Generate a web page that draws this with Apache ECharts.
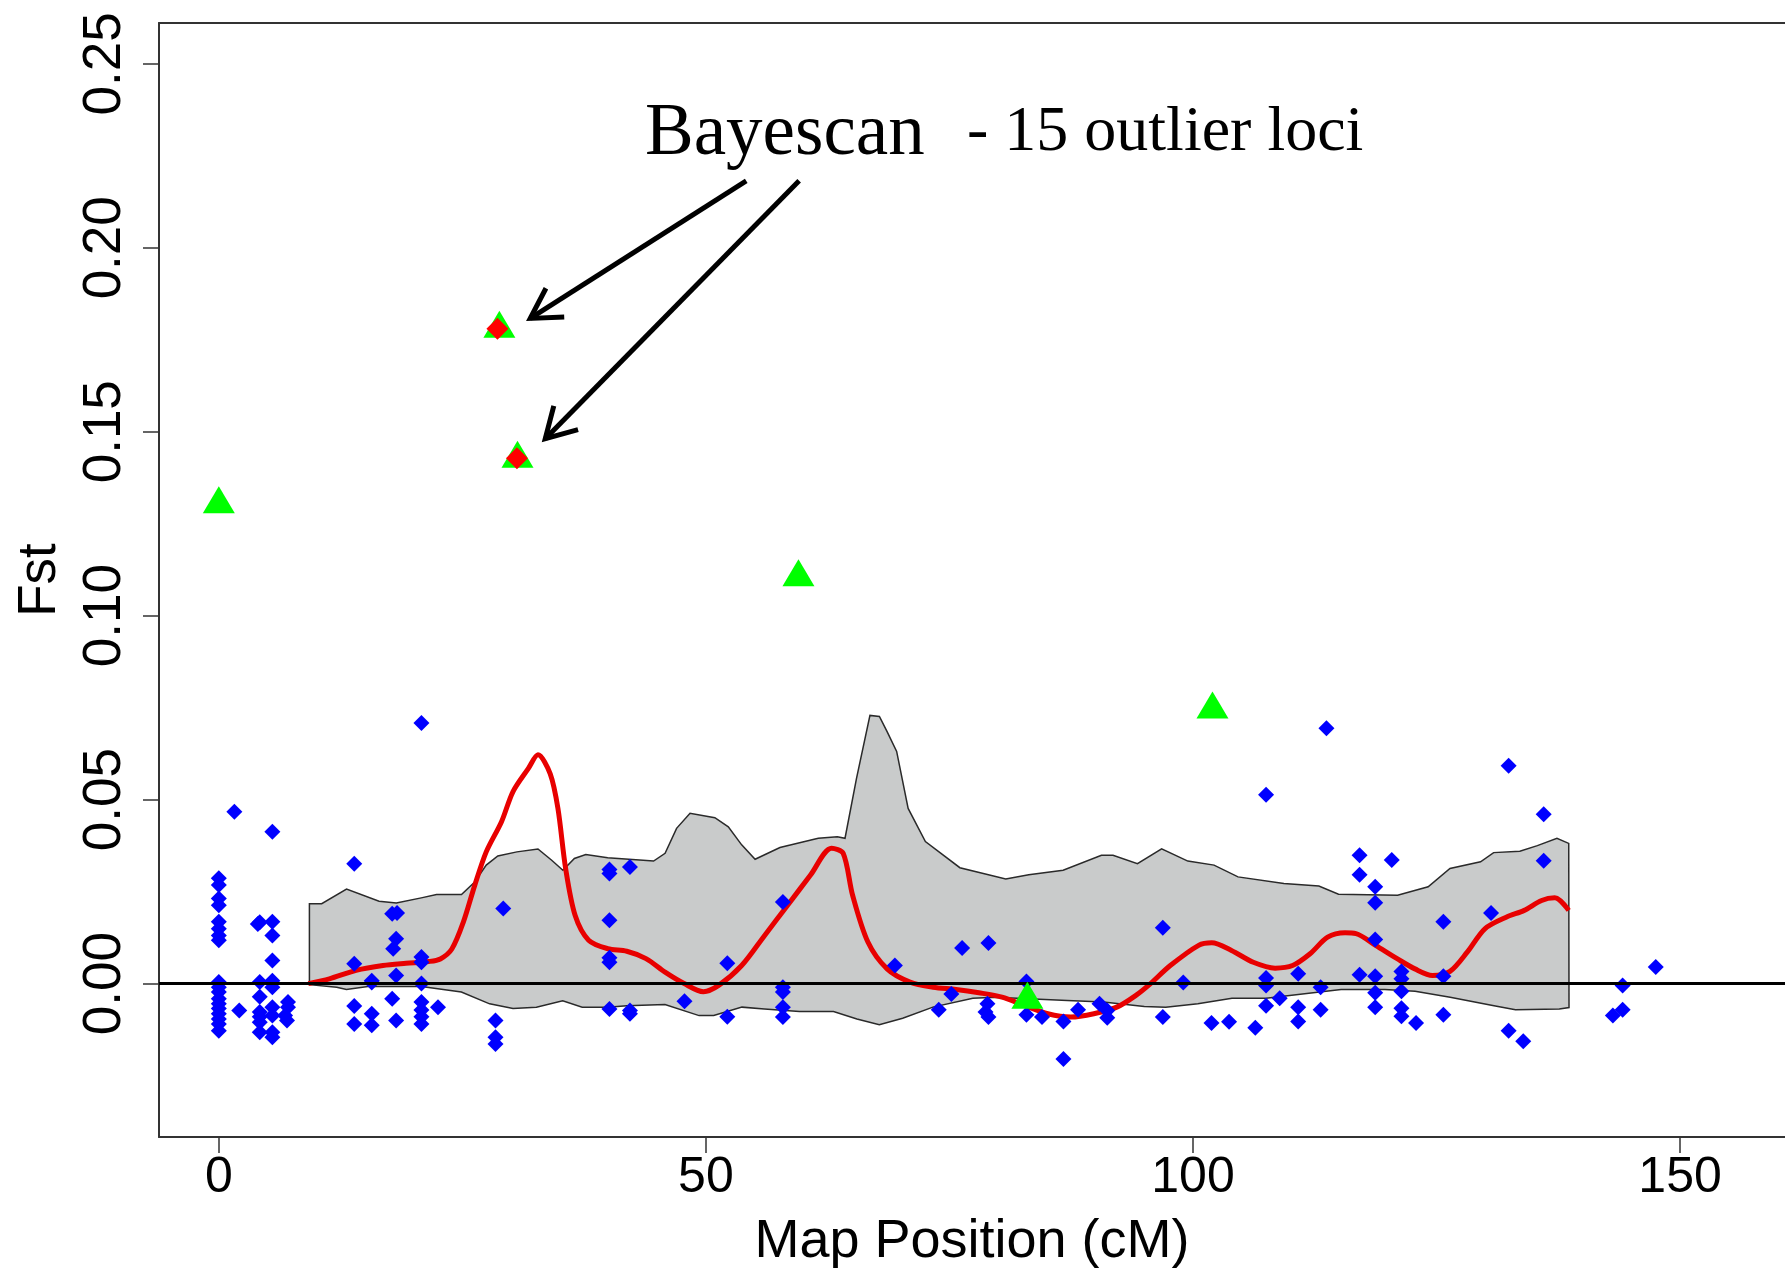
<!DOCTYPE html>
<html>
<head>
<meta charset="utf-8">
<script src="https://cdn.jsdelivr.net/npm/echarts@6/dist/echarts.min.js"></script>
<style>
  html, body { margin: 0; padding: 0; background: #fff; }
  #chart { width: 1785px; height: 1268px; }
</style>
</head>
<body>
<div id="chart"></div>
<script>
// tick values
var xTicks = [0, 50, 100, 150];
var yTicks = [0, 0.05, 0.10, 0.15, 0.20, 0.25];

// all loci (blue)
var loci = [
  [0,0.0286],[0,0.0268],[0,0.0231],[0,0.0213],[0,0.0168],[0,0.0149],[0,0.0131],[0,0.0118],
  [0,0.0004],[0,-0.0010],[0,-0.0023],[0,-0.0041],[0,-0.0055],[0,-0.0068],[0,-0.0082],[0,-0.0096],[0,-0.0110],[0,-0.0128],
  [1.6,0.0467],[2.1,-0.0073],
  [4.2,0.0167],[4.0,0.0162],[4.2,0.0004],[4.2,-0.0036],[4.2,-0.0077],[4.2,-0.0090],[4.2,-0.0105],[4.2,-0.0132],
  [5.5,0.0413],[5.5,0.0168],[5.5,0.0131],[5.5,0.0063],[5.5,0.0008],[5.5,-0.0010],[5.5,-0.0064],[5.5,-0.0087],[5.5,-0.0132],[5.5,-0.0146],
  [7.1,-0.0050],[7.1,-0.0064],[6.8,-0.0087],[7.0,-0.0100],
  [13.9,0.0326],[13.9,0.0054],[13.9,-0.0061],[13.9,-0.0110],
  [15.7,0.0008],[15.7,0.0003],[15.7,-0.0082],[15.7,-0.0113],
  [17.8,0.0190],[18.3,0.0192],[18.2,0.0122],[17.9,0.0095],[18.2,0.0022],[17.8,-0.0041],[18.2,-0.0100],
  [20.8,0.0708],[20.8,0.0072],[20.8,0.0058],[20.8,0.0000],[20.8,-0.0050],[20.8,-0.0072],[20.8,-0.0090],[20.8,-0.0110],
  [22.5,-0.0064],
  [28.4,-0.0100],[28.4,-0.0146],[28.4,-0.0164],[29.2,0.0204],
  [40.1,0.0299],[40.1,0.0310],[40.1,0.0172],[40.1,0.0070],[40.1,0.0058],[40.1,-0.0069],
  [42.2,0.0317],[42.2,-0.0073],[42.2,-0.0082],
  [47.8,-0.0048],[52.2,0.0055],[52.2,-0.0090],
  [57.9,0.0222],[57.9,-0.0010],[57.9,-0.0023],[57.9,-0.0064],[57.9,-0.0091],
  [69.4,0.0049],[73.9,-0.0071],[75.2,-0.0028],[76.3,0.0097],
  [79.0,0.0110],[78.9,-0.0055],[78.7,-0.0077],[79.0,-0.0091],
  [82.9,0.0006],[82.9,-0.0085],[84.5,-0.0091],[86.7,-0.0103],[86.7,-0.0205],
  [88.2,-0.0071],[90.4,-0.0055],[91.2,-0.0073],[91.2,-0.0093],
  [96.9,0.0152],[96.9,-0.0091],[99.0,0.0003],[101.9,-0.0107],[103.7,-0.0104],[106.4,-0.0120],
  [107.5,0.0513],[107.5,0.0015],[107.5,-0.0005],[107.5,-0.0060],[108.9,-0.0040],
  [110.8,0.0027],[110.8,-0.0064],[110.8,-0.0103],[113.1,-0.0010],[113.1,-0.0071],[113.7,0.0694],
  [117.1,0.0349],[117.1,0.0296],[117.1,0.0024],
  [118.7,0.0263],[118.7,0.0220],[118.7,0.0120],[118.7,0.0020],[118.7,-0.0025],[118.7,-0.0064],
  [120.4,0.0336],
  [121.4,0.0033],[121.4,0.0013],[121.4,-0.0021],[121.4,-0.0067],[121.4,-0.0089],
  [122.9,-0.0107],[125.7,0.0168],[125.7,0.0020],[125.7,-0.0085],
  [130.6,0.0192],[132.4,0.0592],[132.4,-0.0128],[133.9,-0.0157],
  [136.0,0.0460],[136.0,0.0334],
  [143.1,-0.0087],[144.1,-0.0005],[144.1,-0.0071],[147.5,0.0045]
];

// outliers (green triangles) and Bayescan outliers (red diamonds)
var outliers = [[0,0.1315],[28.8,0.1792],[30.66,0.1439],[59.5,0.1117],[83.0,-0.0032],[102.0,0.0757]];
var bayescan = [[28.6,0.1780],[30.6,0.1428]];

// smoothed mean (red line)
var meanLine = [
  [9.19,0.0000],[11.35,0.0013],[14.1,0.0036],[16.85,0.0049],[19.21,0.0055],[21.56,0.0060],[22.74,0.0067],
  [23.92,0.0094],[25.1,0.0167],[26.27,0.0267],[27.45,0.0358],[29.02,0.0440],[30.2,0.0522],[31.78,0.0585],
  [32.76,0.0622],[34.02,0.0570],[34.81,0.0476],[35.6,0.0313],[36.58,0.0185],[37.96,0.0118],[39.92,0.0095],
  [41.88,0.0088],[43.85,0.0068],[45.81,0.0031],[47.77,0.0000],[49.74,-0.0022],[51.31,-0.0005],[53.67,0.0049],
  [56.03,0.0131],[58.39,0.0213],[60.74,0.0295],[62.9,0.0368],[64.09,0.0354],[65.06,0.0240],[66.63,0.0113],
  [68.6,0.0040],[70.95,0.0004],[73.32,-0.0010],[75.68,-0.0016],[78.03,-0.0025],[80.39,-0.0037],[82.75,-0.0060],
  [85.1,-0.0082],[87.46,-0.0091],[89.82,-0.0082],[92.18,-0.0064],[94.14,-0.0032],[95.64,0.0000],[97.67,0.0049],
  [100.58,0.0104],[101.93,0.0111],[103.95,0.0090],[106.19,0.0058],[108.43,0.0042],[110.22,0.0049],[112.02,0.0081],
  [113.82,0.0126],[115.61,0.0138],[116.73,0.0136],[118.75,0.0104],[121.0,0.0067],[122.78,0.0040],[124.58,0.0022],
  [126.38,0.0033],[128.17,0.0086],[129.96,0.0149],[132.2,0.0181],[134.0,0.0199],[135.79,0.0226],[137.13,0.0233],
  [138.57,0.0199]
];

// envelope (grey band)
var bandUpper = [
  [9.30,0.0217],[10.56,0.0217],[13.11,0.0257],[16.45,0.0224],[18.22,0.0219],[20.78,0.0233],[22.35,0.0242],
  [24.91,0.0242],[26.27,0.0276],[27.45,0.0322],[28.64,0.0347],[30.60,0.0358],[32.76,0.0366],[34.14,0.0336],
  [35.32,0.0308],[36.50,0.0340],[37.67,0.0351],[39.92,0.0342],[44.63,0.0333],[45.81,0.0354],[46.99,0.0422],
  [48.37,0.0463],[50.92,0.0451],[52.30,0.0426],[53.67,0.0377],[55.05,0.0338],[57.60,0.0370],[61.53,0.0395],
  [63.49,0.0399],[64.28,0.0395],[65.46,0.0558],[66.84,0.0729],[67.81,0.0726],[68.60,0.0685],[69.58,0.0631],
  [70.76,0.0476],[72.53,0.0386],[76.07,0.0315],[80.78,0.0284],[83.14,0.0296],[86.67,0.0308],[90.60,0.0349],
  [91.79,0.0349],[94.30,0.0326],[96.78,0.0366],[99.47,0.0333],[102.16,0.0322],[104.62,0.0290],[109.33,0.0272],
  [112.92,0.0265],[114.94,0.0243],[121.00,0.0240],[124.14,0.0263],[126.38,0.0313],[129.52,0.0331],[130.86,0.0356],
  [133.55,0.0360],[135.35,0.0375],[137.36,0.0395],[138.57,0.0381]
];
var bandLower = [
  [9.3,-0.0003],[12.1,-0.0010],[13.1,-0.0016],[15.3,-0.0008],[20.8,-0.0008],[24.9,-0.0023],[27.8,-0.0055],
  [30.2,-0.0068],[32.6,-0.0064],[35.3,-0.0047],[37.3,-0.0064],[39.9,-0.0064],[41.9,-0.0060],[45.8,-0.0057],
  [49.3,-0.0087],[50.8,-0.0087],[53.7,-0.0064],[56.0,-0.0069],[59.6,-0.0076],[63.1,-0.0076],[65.5,-0.0096],
  [67.8,-0.0112],[70.2,-0.0094],[73.3,-0.0064],[77.4,-0.0040],[79.7,-0.0037],[83.1,-0.0041],[87.1,-0.0046],
  [90.8,-0.0050],[95.0,-0.0062],[97.2,-0.0064],[100.5,-0.0055],[104.0,-0.0040],[107.5,-0.0040],[115.2,-0.0016],
  [119.7,-0.0016],[122.8,-0.0021],[126.4,-0.0037],[130.9,-0.0060],[133.1,-0.0071],[137.6,-0.0069],[138.6,-0.0065]
];

// annotation arrows (tail -> tip, data coords)
var arrowTails = [[54.14,0.2182],[59.57,0.2182]];
var arrowTips = [[31.97,0.1808],[33.51,0.1481]];

var xMin = -6.14, xMax = 160.77;
var yMin = -0.0417, yMax = 0.2611;

var chart = echarts.init(document.getElementById('chart'));

function frameAxis(pos) {
  return {
    type: 'value', position: pos, min: xMin, max: xMax,
    axisLine: { show: true, onZero: false, lineStyle: { color: '#333', width: 2 } },
    axisTick: { show: false }, axisLabel: { show: false }, splitLine: { show: false }
  };
}

var option = {
  animation: false,
  backgroundColor: '#ffffff',
  grid: { left: 159, right: 0, top: 23, bottom: 131, outerBoundsMode: 'none' },
  xAxis: [{
    type: 'value', position: 'bottom', min: xMin, max: xMax,
    name: 'Map Position (cM)', nameLocation: 'middle', nameGap: 78,
    nameTextStyle: { fontSize: 54, color: '#000', fontFamily: 'Liberation Sans' },
    axisLine: { show: true, onZero: false, lineStyle: { color: '#333', width: 2 } },
    splitLine: { show: false },
    axisTick: { show: true, length: 16, customValues: xTicks, lineStyle: { color: '#333', width: 1.5 } },
    axisLabel: { fontSize: 50, color: '#000', fontFamily: 'Liberation Sans', margin: 16, customValues: xTicks }
  }, frameAxis('top')],
  yAxis: {
    type: 'value', min: yMin, max: yMax,
    name: 'Fst', nameLocation: 'middle', nameGap: 92,
    nameTextStyle: { fontSize: 53, color: '#000', fontFamily: 'Liberation Sans' },
    axisLine: { show: true, onZero: false, lineStyle: { color: '#333', width: 2 } },
    splitLine: { show: false },
    axisTick: { show: true, length: 16, customValues: yTicks, lineStyle: { color: '#333', width: 1.5 } },
    axisLabel: {
      fontSize: 53, color: '#000', fontFamily: 'Liberation Sans', margin: 27, rotate: 90,
      customValues: yTicks,
      formatter: function (v) { return v.toFixed(2); }
    }
  },
  graphic: [
    { type: 'text', left: 645, top: 98, z: 100,
      style: { text: 'Bayescan', font: '73px "Liberation Serif"', fill: '#000' } },
    { type: 'text', left: 967, top: 101, z: 100,
      style: { text: '- 15 outlier loci', font: '64px "Liberation Serif"', fill: '#000' } }
  ],
  series: [
    {
      type: 'custom', name: 'envelope', z: 1, silent: true,
      data: [[0, 0]],
      renderItem: function (params, api) {
        var pts = bandUpper.map(function (p) { return api.coord(p); })
          .concat(bandLower.slice().reverse().map(function (p) { return api.coord(p); }));
        return {
          type: 'polygon',
          shape: { points: pts },
          style: { fill: '#c9cbcb', stroke: '#2a2a2a', lineWidth: 1.5 }
        };
      }
    },
    {
      type: 'line', name: 'zero', z: 2, data: [], silent: true,
      markLine: {
        silent: true, symbol: 'none', label: { show: false },
        lineStyle: { color: '#000', width: 3, type: 'solid' },
        data: [{ yAxis: 0 }]
      }
    },
    {
      type: 'line', name: 'mean', z: 3, data: meanLine, smooth: 0.3,
      showSymbol: false, lineStyle: { color: '#e80000', width: 5 }
    },
    {
      type: 'scatter', name: 'loci', z: 4, data: loci,
      symbol: 'diamond', symbolSize: [16, 16], itemStyle: { color: '#0000ff', opacity: 1 }
    },
    {
      type: 'scatter', name: 'outliers', z: 5, data: outliers,
      symbol: 'triangle', symbolSize: [32, 27], itemStyle: { color: '#00ff00', opacity: 1 }
    },
    {
      type: 'scatter', name: 'bayescan', z: 6, data: bayescan,
      symbol: 'diamond', symbolSize: [22, 22], itemStyle: { color: '#ff0000', opacity: 1 }
    },
    {
      type: 'custom', name: 'arrows', z: 7, silent: true,
      data: arrowTails.map(function (t, i) { return [t[0], t[1], arrowTips[i][0], arrowTips[i][1]]; }),
      encode: { x: [0, 2], y: [1, 3] },
      renderItem: function (params, api) {
        var a = api.coord([api.value(0), api.value(1)]);
        var b = api.coord([api.value(2), api.value(3)]);
        var dx = a[0] - b[0], dy = a[1] - b[1];
        var len = Math.sqrt(dx * dx + dy * dy);
        dx /= len; dy /= len;
        var head = 34, ang = Math.PI / 6;
        function arm(s) {
          var c = Math.cos(s * ang), sn = Math.sin(s * ang);
          return [b[0] + head * (dx * c - dy * sn), b[1] + head * (dx * sn + dy * c)];
        }
        var st = { stroke: '#000', lineWidth: 5, fill: null };
        return {
          type: 'group',
          children: [
            { type: 'line', shape: { x1: a[0], y1: a[1], x2: b[0], y2: b[1] }, style: st },
            { type: 'polyline', shape: { points: [arm(1), b, arm(-1)] }, style: st }
          ]
        };
      }
    }
  ]
};
chart.setOption(option);
</script>
</body>
</html>
